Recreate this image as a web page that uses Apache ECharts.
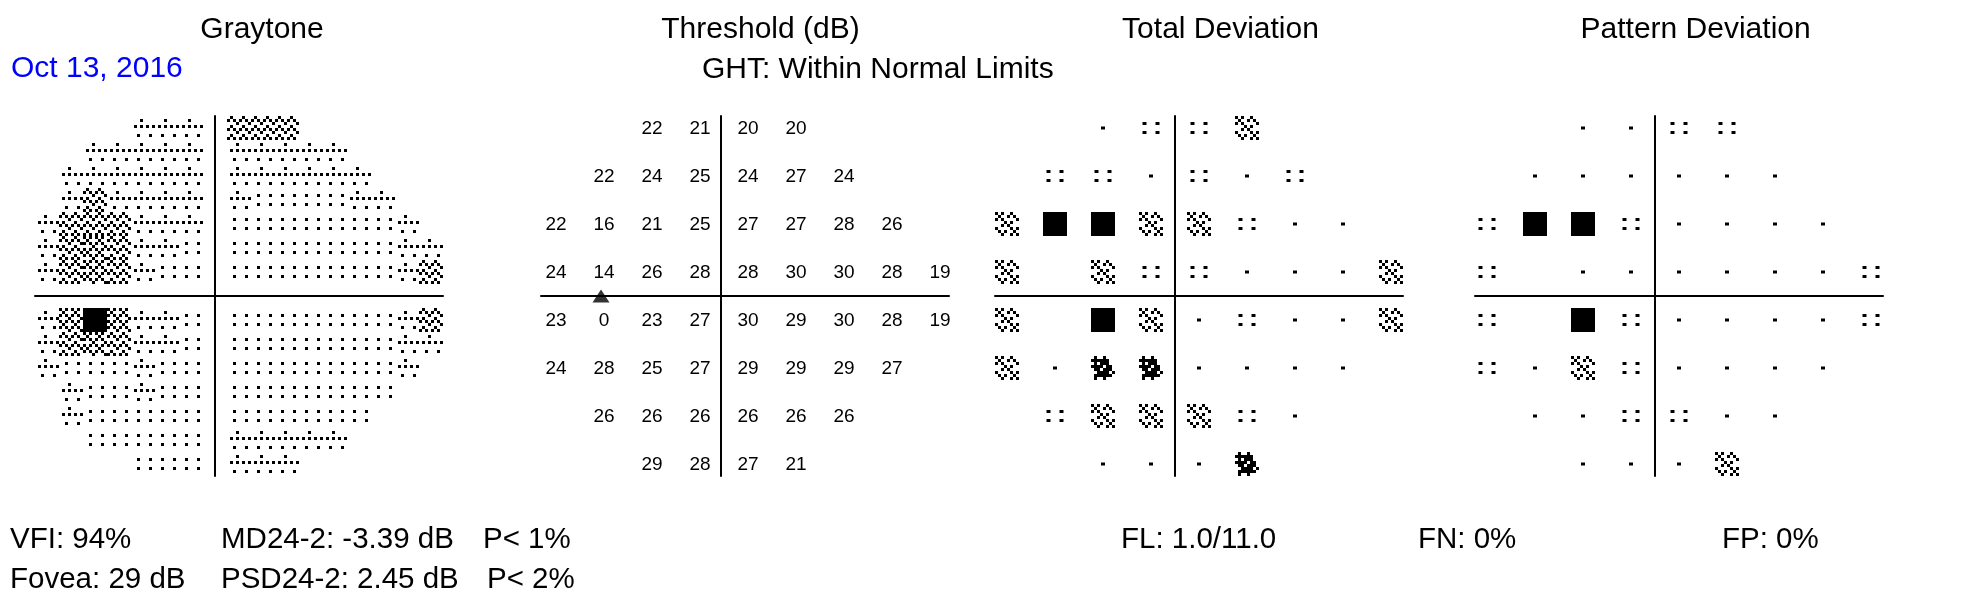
<!DOCTYPE html>
<html><head><meta charset="utf-8">
<script src="https://cdn.jsdelivr.net/npm/echarts@6/dist/echarts.min.js"></script>
<style>html,body{margin:0;padding:0;background:#fff}#c{width:1968px;height:600px}</style>
</head><body><div id="c"></div>
<script>
// ---------------- DATA ----------------
// 24-2 test grid (degrees)
const rowY = [21, 15, 9, 3, -3, -9, -15, -21];
const rowX = [
  [-9, -3, 3, 9],
  [-15, -9, -3, 3, 9, 15],
  [-21, -15, -9, -3, 3, 9, 15, 21],
  [-21, -15, -9, -3, 3, 9, 15, 21, 27],
  [-21, -15, -9, -3, 3, 9, 15, 21, 27],
  [-21, -15, -9, -3, 3, 9, 15, 21],
  [-15, -9, -3, 3, 9, 15],
  [-9, -3, 3, 9]
];
// Threshold values (dB)
const threshold = [
  [22, 21, 20, 20],
  [22, 24, 25, 24, 27, 24],
  [22, 16, 21, 25, 27, 27, 28, 26],
  [24, 14, 26, 28, 28, 30, 30, 28, 19],
  [23, 0, 23, 27, 30, 29, 30, 28, 19],
  [24, 28, 25, 27, 29, 29, 29, 27],
  [26, 26, 26, 26, 26, 26],
  [29, 28, 27, 21]
];
// Probability symbol levels: 0 normal, 1 p<5%, 2 p<2%, 3 p<1%, 4 p<0.5%, null = blind spot
const totalDeviation = [
  [0, 1, 1, 2],
  [1, 1, 0, 1, 0, 1],
  [2, 4, 4, 2, 2, 1, 0, 0],
  [2, null, 2, 1, 1, 0, 0, 0, 2],
  [2, null, 4, 2, 0, 1, 0, 0, 2],
  [2, 0, 3, 3, 0, 0, 0, 0],
  [1, 2, 2, 2, 1, 0],
  [0, 0, 0, 3]
];
const patternDeviation = [
  [0, 0, 1, 1],
  [0, 0, 0, 0, 0, 0],
  [1, 4, 4, 1, 0, 0, 0, 0],
  [1, null, 0, 0, 0, 0, 0, 0, 1],
  [1, null, 4, 1, 0, 0, 0, 0, 1],
  [1, 0, 2, 1, 0, 0, 0, 0],
  [0, 0, 1, 1, 0, 0],
  [0, 0, 0, 2]
];
const blindSpot = [[-15, 0]];
// Graytone: interpolated cells (3 deg), levels 0 (light) .. 5 (black)
const grayX = [-21, -18, -15, -12, -9, -6, -3, 3, 6, 9, 12, 15, 18, 21, 24, 27];
const grayY = [21, 18, 15, 12, 9, 6, 3, -3, -6, -9, -12, -15, -18, -21];
const grayLevels = [
  "....111222......",
  "..1111111111....",
  ".111111111111...",
  ".1211111000011..",
  "122211100000001.",
  "1232110000000011",
  "1232100000000012",
  "1353110000000012",
  "1232110000000011",
  "100010000000001.",
  ".1001000000000..",
  ".100000000000...",
  "..0000011111....",
  "....000111......"
];
const titles = ['Graytone', 'Threshold (dB)', 'Total Deviation', 'Pattern Deviation'];
const examDate = 'Oct 13, 2016';
const ghtText = 'GHT: Within Normal Limits';
const statsLine1 = ['VFI: 94%', 'MD24-2: -3.39 dB', 'P< 1%', 'FL: 1.0/11.0', 'FN: 0%', 'FP: 0%'];
const statsLine2 = ['Fovea: 29 dB', 'PSD24-2: 2.45 dB', 'P< 2%'];

// ---------------- STYLE / PATTERNS ----------------
const FONT = "'Liberation Sans', Arial, sans-serif";
const GRAY_PATTERNS = {
  0: ["........", "........", "..#...#.", "........", "........", "..#...#.", "........", "........"],
  1: ["........", "...#....", "........", ".#.#.#.#", "........", "........", "..#...#.", "........"],
  2: [".#...#..", "#.#.#.#.", "...#...#", ".#...#..", "#.#.#.#.", "...#...#", ".#...#..", "#.#.#.#."],
  3: ["#.#.#.#.", ".#...#..", "#.#.#.#.", "...#...#", "#.#.#.#.", ".#...#..", "#.#.#.#.", "...#...#"]
};
const DEV_PATTERNS = {
  2: ["#.#..#..", ".#..#.#.", "#.#....#", "...#.#..", "..#.#...", "#....#.#", ".#.#..#.", "..#..#.#"],
  3: [".#..#...", "######..", ".#.###..", "####.##.", ".##.###.", "..####.#", ".######.", ".#..#..."]
};

function bitmap(pat, x0, y0, u) {
  const ch = [];
  for (let r = 0; r < pat.length; r++) {
    for (let c = 0; c < pat[r].length; c++) {
      if (pat[r][c] === '#') ch.push({type: 'rect', shape: {x: x0 + c * u, y: y0 + r * u, width: u, height: u}, style: {fill: '#000'}});
    }
  }
  return {type: 'group', children: ch};
}

function renderGray(params, api) {
  const lvl = api.value(2);
  const p = api.coord([api.value(0), api.value(1)]);
  const sz = api.size([3, 3]);
  const x0 = p[0] - sz[0] / 2, y0 = p[1] - sz[1] / 2;
  if (lvl >= 5) return {type: 'rect', shape: {x: x0, y: y0, width: sz[0], height: sz[1]}, style: {fill: '#000'}};
  return bitmap(GRAY_PATTERNS[lvl], x0, y0, sz[0] / 8);
}

function renderDev(params, api) {
  const lvl = api.value(2);
  const p = api.coord([api.value(0), api.value(1)]);
  const sz = api.size([3, 3]);
  const x0 = p[0] - sz[0] / 2, y0 = p[1] - sz[1] / 2;
  const dot = (cx, cy) => ({type: 'rect', shape: {x: cx - 2, y: cy - 1.5, width: 4, height: 3}, style: {fill: '#000'}});
  if (lvl === 0) return dot(p[0], p[1]);
  if (lvl === 1) return {type: 'group', children: [dot(p[0] - 6.5, p[1] - 4.5), dot(p[0] + 6.5, p[1] - 4.5), dot(p[0] - 6.5, p[1] + 4.5), dot(p[0] + 6.5, p[1] + 4.5)]};
  if (lvl >= 4) return {type: 'rect', shape: {x: x0, y: y0, width: sz[0], height: sz[1]}, style: {fill: '#000'}};
  return bitmap(DEV_PATTERNS[lvl], x0, y0, sz[0] / 8);
}

function renderNum(params, api) {
  const p = api.coord([api.value(0), api.value(1)]);
  return {type: 'text', x: p[0] + 3, y: p[1] + 0.5,
    style: {text: String(api.value(2)), fill: '#000', font: '19px ' + FONT,
      textAlign: 'center', textVerticalAlign: 'middle', align: 'center', verticalAlign: 'middle'}};
}

function gridPoints(values) {
  const out = [];
  values.forEach((row, i) => row.forEach((v, j) => {
    if (v !== null) out.push([rowX[i][j], rowY[i], v]);
  }));
  return out;
}
const grayData = [];
grayLevels.forEach((s, i) => {
  for (let j = 0; j < s.length; j++) if (s[j] !== '.') grayData.push([grayX[j], grayY[i], Number(s[j])]);
});

// ---------------- CHART ----------------
const centers = [215, 721, 1175, 1655];
const grids = centers.map(cx => ({left: cx - 180, top: 116, width: 408, height: 360}));
const axisCommon = {
  type: 'value',
  axisLine: {onZero: true, lineStyle: {color: '#000', width: 2}},
  axisTick: {show: false}, axisLabel: {show: false}, splitLine: {show: false}
};
const xAxes = grids.map((g, i) => Object.assign({}, axisCommon, {gridIndex: i, min: -22.5, max: 28.5}));
const yAxes = grids.map((g, i) => Object.assign({}, axisCommon, {gridIndex: i, min: -22.5, max: 22.5}));

function txt(text, x, y, opts) {
  opts = opts || {};
  return {type: 'text', x: x, y: y, silent: true,
    style: {text: text, fill: opts.color || '#000', font: (opts.size || 29) + 'px ' + FONT,
      textAlign: opts.align || 'left', align: opts.align || 'left',
      textVerticalAlign: 'middle', verticalAlign: 'middle'}};
}
const titleX = [262, 760.5, 1220.5, 1695.6];
const graphics = titles.map((t, i) => txt(t, titleX[i], 29.5, {align: 'center', size: 30}));
graphics.push(txt(examDate, 11, 68.5, {color: '#0000ff', size: 30}));
graphics.push(txt(ghtText, 877.8, 69.5, {align: 'center', size: 30}));
const line1X = [10, 221, 483, 1121, 1418, 1722];
statsLine1.forEach((t, i) => graphics.push(txt(t, line1X[i], 539.5, {size: 29.5})));
const line2X = [10, 221, 487];
statsLine2.forEach((t, i) => graphics.push(txt(t, line2X[i], 580, {size: 29.5})));

const chart = echarts.init(document.getElementById('c'), null, {renderer: 'canvas'});
chart.setOption({
  animation: false,
  backgroundColor: '#fff',
  grid: grids,
  xAxis: xAxes,
  yAxis: yAxes,
  graphic: graphics,
  series: [
    {type: 'custom', xAxisIndex: 0, yAxisIndex: 0, data: grayData, renderItem: renderGray, silent: true},
    {type: 'custom', xAxisIndex: 1, yAxisIndex: 1, data: gridPoints(threshold), renderItem: renderNum, silent: true},
    {type: 'scatter', xAxisIndex: 1, yAxisIndex: 1, data: blindSpot, symbol: 'triangle', symbolSize: [17, 13], itemStyle: {color: '#000'}, silent: true, z: 5},
    {type: 'custom', xAxisIndex: 2, yAxisIndex: 2, data: gridPoints(totalDeviation), renderItem: renderDev, silent: true},
    {type: 'custom', xAxisIndex: 3, yAxisIndex: 3, data: gridPoints(patternDeviation), renderItem: renderDev, silent: true}
  ]
});
</script></body></html>
